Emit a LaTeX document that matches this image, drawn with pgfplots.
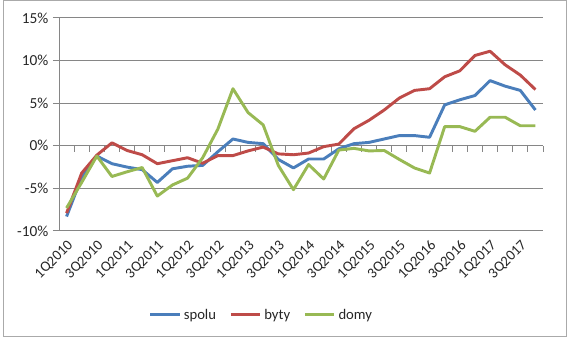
\documentclass[border=0pt]{standalone}
\usepackage{pgfplots}
\usepackage{pgfplotstable}
\pgfplotsset{compat=1.18}
\usepackage{fontspec}
\setmainfont{Carlito}
\definecolor{cblue}{HTML}{4A7EBB}
\definecolor{cred}{HTML}{BE4B48}
\definecolor{cgreen}{HTML}{98B954}
\definecolor{cgrid}{HTML}{868686}

\pgfplotstableread{
i spolu byty domy
0 -8.3 -7.9 -7.3
1 -3.7 -3.2 -4.3
2 -1.2 -1.1 -1.2
3 -2.1 0.35 -3.6
4 -2.5 -0.55 -3.05
5 -2.8 -1.05 -2.55
6 -4.3 -2.1 -5.9
7 -2.7 -1.75 -4.6
8 -2.4 -1.4 -3.8
9 -2.3 -2.05 -1.4
10 -0.7 -1.15 1.95
11 0.8 -1.15 6.7
12 0.4 -0.6 3.9
13 0.25 -0.15 2.45
14 -1.6 -0.95 -2.3
15 -2.6 -1.05 -5.15
16 -1.55 -0.85 -2.2
17 -1.55 -0.1 -3.9
18 -0.35 0.2 -0.5
19 0.25 2.0 -0.3
20 0.4 3.0 -0.6
21 0.8 4.2 -0.55
22 1.2 5.6 -1.6
23 1.2 6.5 -2.6
24 1.0 6.7 -3.2
25 4.8 8.1 2.25
26 5.4 8.8 2.25
27 5.9 10.6 1.7
28 7.65 11.1 3.35
29 7.0 9.5 3.35
30 6.5 8.3 2.35
31 4.2 6.6 2.35
}\data

\begin{document}
\begin{tikzpicture}
\useasboundingbox (0,0) rectangle (427.5pt,256.5pt);
\draw[draw=cgrid!70, line width=0.75pt] (2.25pt,3.75pt) rectangle (424.5pt,255.75pt);
% zero axis with category tick marks
\begin{axis}[at={(44.25pt,83.25pt)}, anchor=south west, scale only axis,
  width=363pt, height=159.75pt,
  xmin=-0.5, xmax=31.5, ymin=-10, ymax=15,
  axis x line=middle, axis y line=none,
  x axis line style={cgrid, line width=0.75pt, -},
  xtick={-0.5,0.5,...,31.5}, xticklabels={},
  xtick style={cgrid, line width=0.75pt},
  tick align=outside, major tick length=4.5pt]
\end{axis}
\begin{axis}[at={(44.25pt,83.25pt)}, anchor=south west, scale only axis,
  width=363pt, height=159.75pt,
  xmin=-0.5, xmax=31.5, ymin=-10, ymax=15,
  ytick={-10,-5,...,15},
  /pgf/number format/assume math mode=true,
  yticklabel={\pgfmathprintnumber{\tick}\%},
  axis y line*=left, axis x line*=bottom,
  x axis line style={draw=none},
  y axis line style={cgrid, line width=0.75pt},
  ytick style={cgrid, line width=0.75pt},
  tick align=outside, major tick length=4.5pt,
  xtick style={draw=none},
  xtick={0,2,...,30},
  xticklabels={1Q2010,3Q2010,1Q2011,3Q2011,1Q2012,3Q2012,1Q2013,3Q2013,1Q2014,3Q2014,1Q2015,3Q2015,1Q2016,3Q2016,1Q2017,3Q2017},
  xticklabel style={rotate=45, anchor=north east, inner sep=1pt, font=\fontsize{11}{13}\selectfont, text=black!85},
  yticklabel style={font=\fontsize{11.5}{13}\selectfont, text=black!85},
  ymajorgrids, grid style={cgrid, line width=0.75pt},
  legend columns=3,
  legend style={at={(0.419,-0.394)}, anchor=center, draw=none, fill=none,
    font=\fontsize{11}{13}\selectfont, text=black!85,
    /tikz/every even column/.append style={column sep=8pt}},
  legend image code/.code={\draw[#1] (0pt,0pt) -- (22pt,0pt);},
  every axis plot/.append style={line width=2.2pt, line join=round}]
\addplot[cblue] table[x=i, y=spolu] {\data};
\addplot[cred] table[x=i, y=byty] {\data};
\addplot[cgreen] table[x=i, y=domy] {\data};
\legend{spolu, byty, domy}
\end{axis}
\end{tikzpicture}
\end{document}
